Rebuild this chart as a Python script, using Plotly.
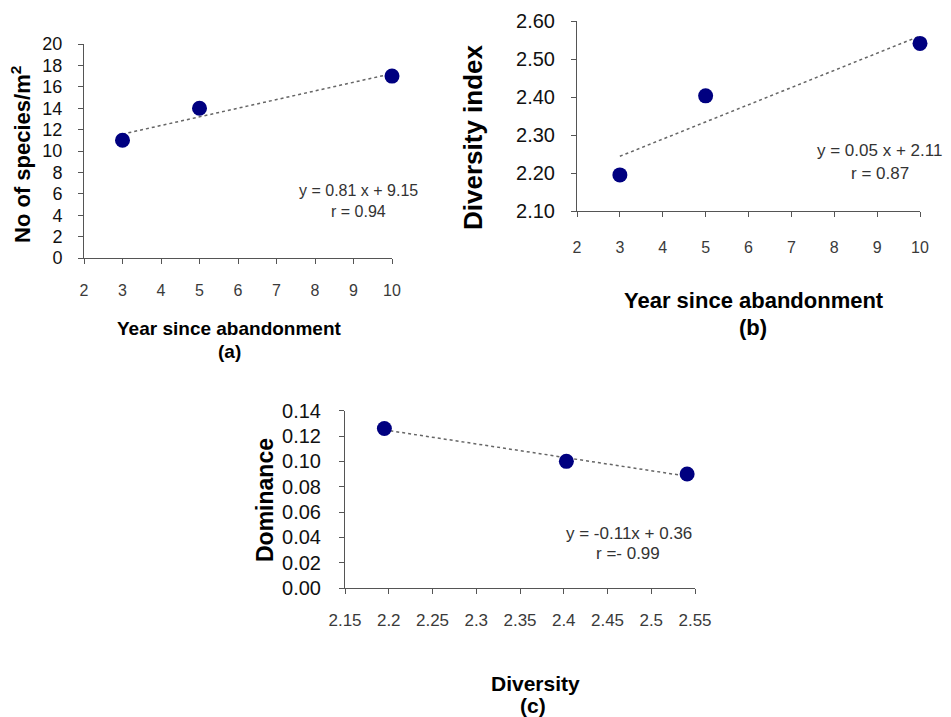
import plotly.graph_objects as go

W, H = 951, 717

# ---- data ----
years = [3, 5, 10]
species = [11, 14, 17]
diversity = [2.195, 2.403, 2.541]
dominance = [0.126, 0.100, 0.090]

eq_a = ["y = 0.81 x + 9.15", "r = 0.94"]
eq_b = ["y = 0.05 x + 2.11", "r = 0.87"]
eq_c = ["y = -0.11x + 0.36", "r =- 0.99"]

x_ticks_year = [2, 3, 4, 5, 6, 7, 8, 9, 10]
y_ticks_a = [0, 2, 4, 6, 8, 10, 12, 14, 16, 18, 20]
y_ticks_b = [2.10, 2.20, 2.30, 2.40, 2.50, 2.60]
x_ticks_c = [2.15, 2.2, 2.25, 2.3, 2.35, 2.4, 2.45, 2.5, 2.55]
y_ticks_c = [0.00, 0.02, 0.04, 0.06, 0.08, 0.10, 0.12, 0.14]


def linfit(xs, ys):
    n = len(xs)
    mx = sum(xs) / n
    my = sum(ys) / n
    sxy = sum((a - mx) * (b - my) for a, b in zip(xs, ys))
    sxx = sum((a - mx) ** 2 for a in xs)
    m = sxy / sxx
    return m, my - m * mx


def dom(px0, px1):
    return [px0 / W, px1 / W]


def ydom(py_top, py_bot):
    return [1 - py_bot / H, 1 - py_top / H]


FONT = "Liberation Sans, Arial, sans-serif"
NAVY = "#000080"
AX = "#555555"
TICKC = "#3a3a3a"

fig = go.Figure()

panels = [
    ("x", "y", years, species),
    ("x2", "y2", years, diversity),
    ("x3", "y3", diversity, dominance),
]
for xa, ya, xs, ys in panels:
    m, b = linfit(xs, ys)
    x0, x1 = min(xs), max(xs)
    fig.add_trace(go.Scatter(x=[x0, x1], y=[m * x0 + b, m * x1 + b], mode="lines",
                             line=dict(color="#666666", width=1.5, dash="dot"),
                             xaxis=xa, yaxis=ya, showlegend=False, hoverinfo="skip",
                             cliponaxis=False))
    fig.add_trace(go.Scatter(x=xs, y=ys, mode="markers",
                             marker=dict(color=NAVY, size=15),
                             xaxis=xa, yaxis=ya, showlegend=False, cliponaxis=False))

common = dict(showgrid=False, zeroline=False, showline=True, linecolor=AX, linewidth=1,
              ticks="outside", ticklen=5, tickcolor=AX, tickwidth=1, automargin=False)

fig.update_layout(
    width=W, height=H,
    margin=dict(l=0, r=0, t=0, b=0, pad=0, autoexpand=False),
    paper_bgcolor="white", plot_bgcolor="white",
    font=dict(family=FONT),
    xaxis=dict(common, domain=dom(84, 392), range=[2, 10], tickvals=x_ticks_year,
               anchor="y", ticklabelstandoff=13, tickfont=dict(family=FONT, color=TICKC, size=16)),
    yaxis=dict(common, domain=ydom(44, 258), range=[0, 20], tickvals=y_ticks_a,
               anchor="x", ticklabelstandoff=12, tickfont=dict(family=FONT, color="#111111", size=18)),
    xaxis2=dict(common, domain=dom(577, 920), range=[2, 10], tickvals=x_ticks_year,
                anchor="y2", ticklabelstandoff=17, tickfont=dict(family=FONT, color=TICKC, size=16)),
    yaxis2=dict(common, domain=ydom(21, 211), range=[2.10, 2.60], tickvals=y_ticks_b,
                tickformat=".2f", anchor="x2", ticklabelstandoff=12,
                tickfont=dict(family=FONT, color="#111111", size=20)),
    xaxis3=dict(common, domain=dom(345, 695), range=[2.15, 2.55], tickvals=x_ticks_c,
                anchor="y3", ticklabelstandoff=12, tickfont=dict(family=FONT, color=TICKC, size=17)),
    yaxis3=dict(common, domain=ydom(410.7, 588), range=[0, 0.14], tickvals=y_ticks_c,
                tickformat=".2f", anchor="x3", ticklabelstandoff=14,
                tickfont=dict(family=FONT, color="#111111", size=20)),
)


def ann(text, px, py, size, bold=False, angle=0, color="#000000"):
    fig.add_annotation(text=f"<b>{text}</b>" if bold else text,
                       x=px / W, y=1 - py / H, xref="paper", yref="paper",
                       xanchor="center", yanchor="middle", showarrow=False,
                       textangle=angle, font=dict(family=FONT, size=size, color=color))


# axis titles and panel labels
ann("Year since abandonment", 229, 328, 19, bold=True)
ann("(a)", 229, 352, 19, bold=True)
ann("No of species/m<sup>2</sup>", 21, 155, 22, bold=True, angle=-90)

ann("Year since abandonment", 754, 300, 22, bold=True)
ann("(b)", 753, 327, 22, bold=True)
ann("Diversity index", 473, 137, 26, bold=True, angle=-90)

ann("Diversity", 535, 683, 21, bold=True)
ann("(c)", 533, 705, 21, bold=True)
ann("Dominance", 265, 500, 23, bold=True, angle=-90)

# regression equations
ann(eq_a[0], 358, 190, 16, color="#333333")
ann(eq_a[1], 358, 211, 16, color="#333333")
ann(eq_b[0], 879, 150, 17, color="#333333")
ann(eq_b[1], 880, 173, 17, color="#333333")
ann(eq_c[0], 629, 533, 17, color="#333333")
ann(eq_c[1], 628, 553, 17, color="#333333")

fig.write_html("out.html", config={"displayModeBar": False},
               post_script="document.body.style.margin='0';")
